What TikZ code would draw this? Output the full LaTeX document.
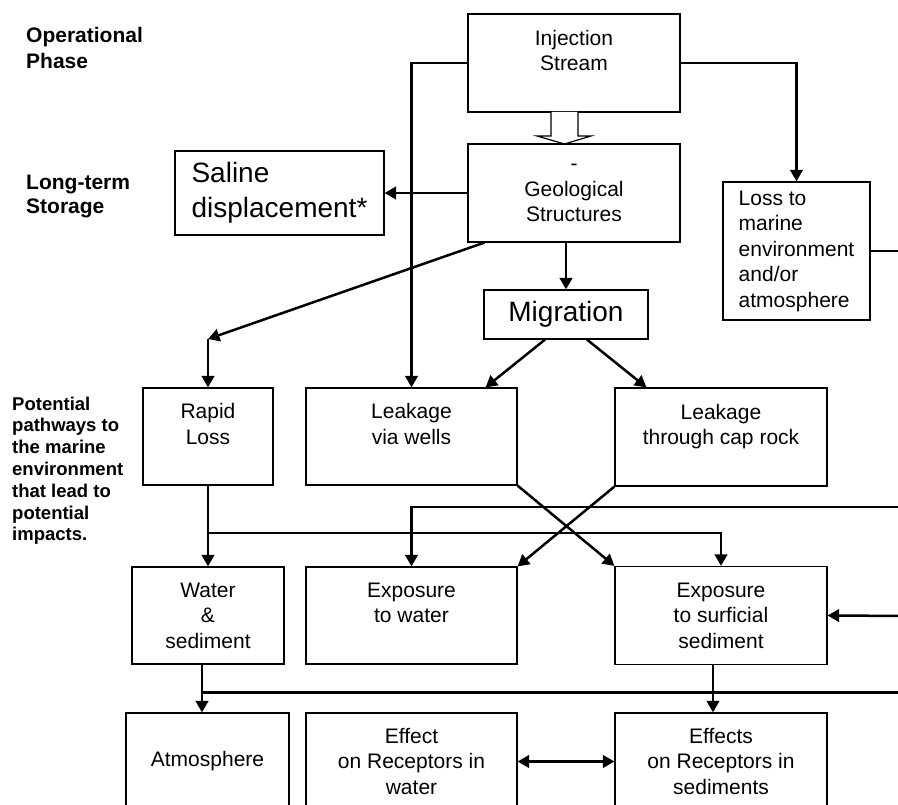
\documentclass[tikz,border=0pt]{standalone}
\usepackage{fontspec}
\setmainfont{Liberation Sans}
\usetikzlibrary{arrows.meta}
\tikzset{
  box/.style={draw, rectangle, line width=1.2pt, align=center, inner sep=0pt,
    font=\fontsize{21}{25.5}\selectfont},
  bigbox/.style={box, font=\fontsize{28}{35}\selectfont},
  phase/.style={anchor=north west, align=left, inner sep=0pt,
    font=\bfseries\fontsize{21}{25.5}\selectfont},
  link/.style={line width=2.5pt}
}
\begin{document}
\begin{tikzpicture}[x=1pt, y=-1pt, >={Triangle[length=11.5pt,width=12.5pt]}]
\useasboundingbox (0,0) rectangle (898,805);
\clip (0,0) rectangle (898,805);
% phase labels
\node[phase] (opl) at (26,27.5) {Operational\\Phase};
\node[phase, font=\bfseries\fontsize{21}{24}\selectfont] (ltl) at (26,175) {Long-term\\Storage};
\node[phase, font=\bfseries\fontsize{18.5}{21.8}\selectfont] (pot) at (12,396.5)
  {Potential\\pathways to\\the marine\\environment\\that lead to\\potential\\impacts.};
% boxes
\node[box, minimum width=212pt, minimum height=98pt] (inj) at (574,63) {Injection\\Stream\\\phantom{S}};
\node[box, minimum width=212pt, minimum height=98pt] (geo) at (574,193) {-\\Geological\\Structures};
\node[bigbox, align=left, minimum width=209pt, minimum height=84pt] (sal) at (279.5,193) {Saline\\displacement*};
\node[box, align=left, minimum width=147pt, minimum height=138pt] (loss) at (796.5,251)
  {Loss to\\marine\\environment\\and/or\\atmosphere};
\node[bigbox, minimum width=164pt, minimum height=49pt] (mig) at (566,314.5) {Migration};
\node[box, minimum width=130pt, minimum height=97pt] (rapid) at (208,436.5) {Rapid\\Loss\\\phantom{S}};
\node[box, minimum width=211pt, minimum height=97pt] (wells) at (411.5,436.5) {Leakage\\via wells\\\phantom{S}};
\node[box, minimum width=212pt, minimum height=98pt] (cap) at (721,437) {Leakage\\through cap rock\\\phantom{S}};
\node[box, minimum width=152pt, minimum height=97pt] (water) at (208,615.5) {Water\\\&\\sediment};
\node[box, minimum width=211pt, minimum height=97pt] (expw) at (411.5,615.5) {Exposure\\to water\\\phantom{S}};
\node[box, minimum width=212pt, minimum height=98pt] (exps) at (721,615.5) {Exposure\\to surficial\\sediment};
\node[box, minimum width=163pt, minimum height=97pt] (atm) at (207.5,761.5) {Atmosphere};
\node[box, minimum width=211pt, minimum height=97pt] (effw) at (411.5,761.5) {Effect\\on Receptors in\\water};
\node[box, minimum width=212pt, minimum height=97pt] (effs) at (721,761.5) {Effects\\on Receptors in\\sediments};
% free ends and corners
\coordinate (kink) at (208,339);
\coordinate (busa) at (208,533);
\coordinate (busb) at (202,692.5);
\coordinate (edgea) at (910,507);
\coordinate (edgeb) at (910,616);
\coordinate (edgec) at (910,692.5);
\coordinate (edged) at (910,251);
% hollow arrow
\draw[line width=1.2pt, fill=white] (551,112) -- (551,136) -- (537,136) -- (564.5,144)
  -- (591,136) -- (578,136) -- (578,112);
% connectors
\draw[link, ->] (inj.west) -| (wells.north);
\draw[link, ->] (inj.east) -| (loss.north);
\draw[link, ->] (geo.west) -- (sal.east);
\draw[link, ->] (mig.north |- geo.south) -- (mig.north);
\draw[link, ->] ([xshift=17pt]geo.south west) -- (kink);
\draw[link, ->] (kink) -- (rapid.north);
\draw[link] (loss.east) -- (edged);
\draw[link, ->] ([xshift=-21pt]mig.south) -- ([xshift=-32pt]wells.north east);
\draw[link, ->] ([xshift=21pt]mig.south) -- ([xshift=32pt]cap.north west);
\draw[link, ->] (wells.south east) -- (exps.north west);
\draw[link, ->] (cap.south west) -- (expw.north east);
\draw[link, ->] (rapid.south) -- (water.north);
\draw[link, ->] (busa) -| (exps.north);
\draw[link, ->] (edgea) -| (expw.north);
\draw[link, ->] (edgeb) -- (exps.east);
\draw[link, ->] ([xshift=-6pt]water.south) -- ([xshift=-5.5pt]atm.north);
\draw[link] (busb) -- (edgec);
\draw[link, ->] ([xshift=-8pt]exps.south) -- ([xshift=-8pt]effs.north);
\draw[link, <->] (effw.east) -- (effs.west);
\end{tikzpicture}
\end{document}
